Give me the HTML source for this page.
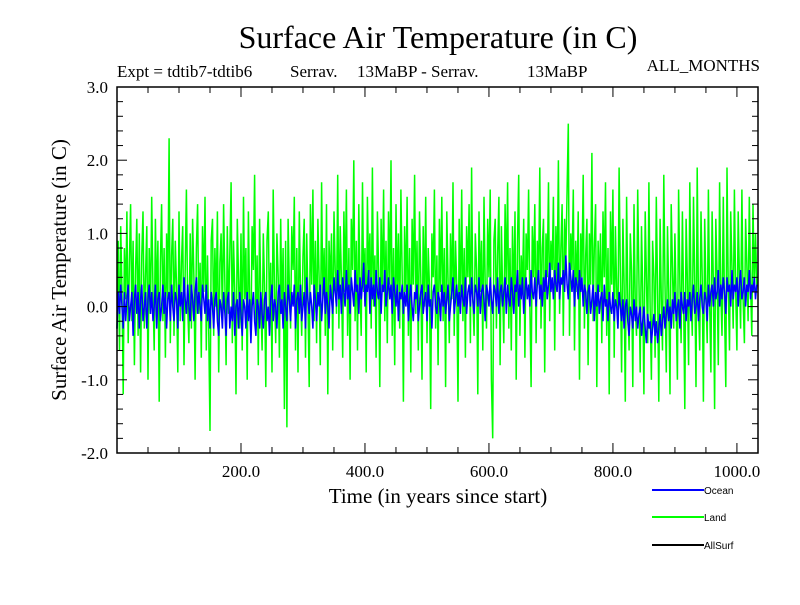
<!DOCTYPE html>
<html><head><meta charset="utf-8"><style>
body{margin:0;background:#fff}
svg text{font-family:"Liberation Serif",serif;fill:#000}
</style></head><body>
<svg width="800" height="600" xmlns="http://www.w3.org/2000/svg">
<text x="438" y="48" font-size="32" text-anchor="middle">Surface Air Temperature (in C)</text>
<text y="77" font-size="17"><tspan x="117">Expt = tdtib7-tdtib6</tspan><tspan x="290">Serrav.</tspan><tspan x="357">13MaBP - Serrav.</tspan><tspan x="527">13MaBP</tspan></text>
<text x="760" y="71" font-size="17" text-anchor="end">ALL_MONTHS</text>
<text transform="translate(66,270) rotate(-90)" font-size="21" text-anchor="middle">Surface Air Temperature (in C)</text>
<text x="438" y="503" font-size="21" text-anchor="middle">Time (in years since start)</text>
<g id="plot"></g>
<g id="axes"></g>
<g>
<line x1="652" y1="490" x2="704" y2="490" stroke="#0000ff" stroke-width="2"/>
<text x="704" y="494" font-size="10" style="font-family:'Liberation Sans',sans-serif">Ocean</text>
<line x1="652" y1="517" x2="704" y2="517" stroke="#00ff00" stroke-width="2"/>
<text x="704" y="521" font-size="10" style="font-family:'Liberation Sans',sans-serif">Land</text>
<line x1="652" y1="545" x2="704" y2="545" stroke="#000" stroke-width="2"/>
<text x="704" y="549" font-size="10" style="font-family:'Liberation Sans',sans-serif">AllSurf</text>
</g>
</svg>
<script>
const yearStep = 2;
const land = [-0.3,0.9,-0.6,1.1,0.2,-1.2,0.8,0.1,1.3,-0.5,0.6,1.4,-0.2,0.9,-0.8,0.5,1.2,-0.4,1.0,-0.9,
0.7,1.3,-0.3,0.4,1.1,-1.0,0.8,-0.1,1.5,0.2,-0.6,1.2,0.0,0.9,-1.3,0.6,1.4,-0.2,0.8,-0.7,
1.0,0.1,2.3,-0.5,0.7,1.2,-0.4,0.9,0.3,-0.9,1.3,-0.2,0.6,1.1,-0.8,0.5,1.6,0.0,-0.5,1.0,
-0.3,1.2,0.4,-1.0,0.8,1.4,-0.1,0.6,-0.7,1.1,0.2,1.5,-0.6,0.7,-0.3,-1.7,0.9,1.2,-0.4,0.8,
0.0,1.3,-0.9,0.6,1.0,-0.2,1.4,0.3,-0.8,1.1,-0.1,0.7,1.7,-0.5,0.9,0.2,-1.2,1.2,0.4,-0.3,
1.0,-0.6,1.5,0.1,0.8,-1.0,1.3,0.0,-0.4,1.1,0.5,1.8,-0.3,0.7,-0.8,1.2,0.1,-0.6,1.0,0.3,
-1.1,0.9,1.3,-0.2,0.6,-0.9,1.6,0.2,-0.5,1.0,0.4,-0.7,1.2,-0.1,0.8,-1.4,0.9,-1.65,1.2,0.3,
-0.3,1.1,0.5,1.5,-0.6,0.8,-0.9,1.3,0.2,-0.4,0.7,1.2,-0.7,1.0,0.1,-1.1,1.4,0.3,1.6,-0.2,
0.9,-0.5,1.2,0.4,-0.8,1.7,0.1,0.8,-0.4,1.4,-1.2,0.9,0.3,1.0,-0.6,1.3,0.5,-0.1,1.8,-0.3,
1.1,0.4,-0.7,1.3,0.2,1.6,-0.4,0.8,-1.0,1.2,0.5,2.0,-0.2,0.9,-0.6,1.4,0.3,-0.4,1.7,0.2,
0.8,-0.9,1.5,0.4,1.0,-0.3,1.9,0.0,0.7,-0.7,1.3,0.5,-1.1,1.2,0.2,1.6,-0.2,0.9,-0.5,1.3,
0.3,2.0,-0.4,0.8,-0.8,1.4,0.1,1.0,-0.3,1.6,0.4,-1.3,1.1,0.2,1.5,-0.4,0.8,-0.9,1.2,0.3,
1.8,-0.1,0.9,-0.6,1.3,0.4,-1.0,1.1,0.0,1.5,-0.5,0.8,0.3,-1.4,1.0,0.4,1.6,-0.3,0.7,-0.8,
1.2,0.2,1.5,-0.2,0.8,-1.1,1.3,0.4,-0.5,1.0,0.1,1.7,-0.4,0.9,0.3,-1.3,1.2,0.0,1.6,-0.2,
0.8,-0.7,1.1,0.4,1.4,-0.5,1.9,0.1,-0.4,1.0,0.5,-1.2,1.3,0.2,0.9,-0.6,1.5,0.3,-0.3,1.2,
0.4,1.6,-1.0,-1.8,0.9,1.2,-0.3,0.7,1.5,-0.8,1.1,0.2,-0.5,1.4,0.3,1.7,-0.3,0.8,-0.6,1.1,
0.0,1.3,-1.0,0.9,1.8,-0.4,0.7,0.2,1.2,-0.7,1.0,0.5,1.6,0.0,-1.1,1.1,0.4,1.4,-0.5,0.9,
0.3,1.9,-0.3,0.8,1.2,-0.9,1.0,0.4,1.7,-0.2,0.9,0.5,1.5,-0.6,1.1,0.3,2.0,-0.1,0.8,1.4,
-0.4,1.2,0.6,1.6,2.5,-0.4,1.0,0.5,1.6,-0.6,0.9,0.2,1.3,-1.0,1.0,0.4,1.8,-0.3,0.7,1.2,
-0.8,1.0,0.3,2.1,-0.2,0.8,1.4,-1.1,0.9,0.2,1.0,-0.5,1.3,0.4,1.7,-0.4,0.8,-1.2,1.3,0.3,
1.6,-0.7,1.1,0.2,-0.3,1.9,0.4,-0.9,1.2,0.3,-1.3,1.5,0.1,-0.6,1.0,0.5,-1.1,1.4,0.0,-0.4,
1.6,0.3,-0.9,1.1,0.2,-1.2,1.3,0.4,-0.5,1.7,0.0,-1.0,0.9,0.4,-0.7,1.5,0.2,-1.3,1.2,0.1,
-0.6,1.8,0.3,-0.9,1.1,0.2,-1.2,1.4,0.5,-0.3,1.0,0.0,-1.0,1.6,0.3,-0.5,1.3,0.1,-1.4,1.2,
0.4,-0.8,1.7,0.2,-0.4,1.5,0.3,-1.1,1.9,0.0,-0.6,1.3,0.4,-1.3,1.2,0.2,-0.5,1.6,0.1,-0.9,
1.3,0.3,-1.4,1.2,0.4,-0.8,1.7,0.2,-0.4,1.5,0.0,-1.1,1.9,0.3,-0.6,1.3,0.5,-0.3,1.6,0.2,
-0.6,1.3,0.4,-0.3,1.6,0.1,-0.5,1.2,0.6,-0.2,1.5,0.3,-0.4,1.4,0.2,1.0,0.3];
const ocean = [-0.3,0.2,-0.1,0.3,0.0,-0.3,0.2,-0.2,0.1,0.3,-0.2,0.0,0.2,-0.4,0.1,0.3,-0.1,0.2,-0.3,0.1,
0.3,-0.2,0.0,0.2,-0.3,0.1,0.3,-0.1,0.2,-0.2,0.0,0.3,-0.3,0.1,0.2,-0.2,0.0,0.3,-0.1,0.2,
-0.3,0.1,0.2,-0.2,0.3,0.0,-0.2,0.2,0.1,-0.3,0.3,0.0,0.2,-0.2,0.4,0.1,-0.1,0.3,0.0,-0.2,
0.3,0.1,-0.2,0.2,0.4,-0.1,0.2,0.0,-0.2,0.3,0.1,-0.1,0.3,-0.2,0.1,-0.3,0.2,0.0,-0.3,0.1,
0.2,-0.2,-0.4,0.1,0.0,-0.3,0.2,-0.1,-0.4,0.1,0.2,-0.3,0.0,-0.2,0.2,-0.4,0.0,0.1,-0.3,0.2,
-0.1,-0.4,0.1,0.0,-0.3,0.2,-0.2,0.1,-0.5,0.0,0.2,-0.2,-0.4,0.1,0.0,-0.3,0.2,-0.1,-0.3,0.1,
0.2,-0.2,0.0,-0.4,0.1,0.3,-0.2,0.1,0.0,-0.3,0.2,0.3,-0.1,0.1,-0.3,0.2,0.0,-0.2,0.3,0.1,
-0.2,0.2,0.0,0.3,-0.3,0.1,0.2,-0.1,0.3,-0.2,0.0,0.2,-0.3,0.4,0.1,-0.1,0.2,0.0,-0.3,0.3,
0.1,-0.2,0.2,0.0,0.3,-0.2,0.1,0.4,-0.1,0.2,0.0,-0.3,0.3,0.1,-0.1,0.4,0.2,0.0,0.5,0.1,
0.3,-0.1,0.4,0.2,0.0,0.5,0.1,0.3,-0.1,0.4,0.2,0.0,0.5,0.2,0.3,-0.1,0.4,0.1,0.3,0.6,
0.0,0.3,0.2,0.5,-0.1,0.4,0.1,0.3,0.0,0.5,0.2,0.1,0.4,-0.1,0.3,0.2,0.5,0.0,0.2,0.4,
0.1,0.3,-0.1,0.4,0.2,0.0,0.3,-0.2,0.2,0.1,0.3,-0.1,0.2,0.0,0.3,-0.2,0.1,0.3,0.0,-0.2,
0.2,0.1,0.3,-0.2,0.0,0.2,0.3,-0.1,0.1,0.2,-0.2,0.3,0.0,0.1,-0.3,0.2,0.3,0.0,-0.1,0.2,
0.1,-0.2,0.3,0.0,0.2,-0.1,0.1,0.3,-0.2,0.0,0.2,0.4,-0.1,0.1,0.3,0.0,0.2,-0.1,0.3,0.1,
0.0,0.4,-0.1,0.2,0.3,0.0,0.4,0.1,-0.1,0.3,0.2,0.0,0.4,-0.1,0.2,0.3,0.1,-0.2,0.3,0.2,
0.0,0.4,0.1,-0.1,0.3,0.2,0.0,0.4,-0.1,0.2,0.3,0.0,0.2,0.4,-0.1,0.3,0.1,0.0,0.4,0.2,
-0.1,0.3,0.2,0.5,0.0,0.3,0.1,0.4,-0.1,0.2,0.4,0.1,0.3,0.0,0.5,0.2,0.1,0.4,0.0,0.3,
0.5,0.1,0.3,0.0,0.4,0.2,0.5,0.1,0.3,0.6,0.2,0.4,0.1,0.5,0.3,0.2,0.6,0.1,0.4,0.3,
0.5,0.2,0.7,0.3,0.1,0.6,0.4,0.2,0.5,0.0,0.4,0.3,0.1,0.5,0.2,0.4,0.0,0.3,0.2,-0.1,
0.2,0.3,-0.1,0.1,0.3,-0.2,0.2,0.0,0.3,-0.1,0.1,0.2,-0.2,0.3,0.0,0.1,-0.2,0.2,0.0,-0.1,
0.2,-0.2,0.1,0.0,-0.3,0.2,0.0,-0.2,0.1,-0.3,0.0,0.1,-0.2,-0.4,0.0,-0.1,-0.3,0.1,-0.2,0.0,
-0.3,-0.1,0.0,-0.4,-0.2,0.0,-0.3,-0.5,-0.1,-0.3,-0.2,-0.5,-0.3,-0.1,-0.4,-0.2,-0.5,-0.3,-0.1,-0.4,
-0.2,0.0,-0.3,-0.1,0.1,-0.2,0.0,-0.3,0.1,-0.1,0.2,-0.2,0.0,0.1,-0.3,0.2,0.0,-0.1,0.2,-0.2,
0.1,0.0,0.2,-0.2,0.1,0.3,-0.1,0.0,0.2,-0.2,0.1,0.3,0.0,-0.1,0.2,0.1,-0.2,0.3,0.0,0.2,
0.3,0.0,0.4,0.1,0.2,0.5,0.0,0.3,0.1,0.4,0.2,-0.1,0.4,0.2,0.3,0.0,0.5,0.1,0.3,0.2,
0.4,0.0,0.3,0.5,0.1,0.2,0.4,0.0,0.3,0.2,0.5,0.1,0.3,0.2,0.4,0.1,0.3];
const xTicks = [200,400,600,800,1000];
const xTickLabels = ["200.0","400.0","600.0","800.0","1000.0"];
const yTicks = [-2,-1,0,1,2,3];
const yTickLabels = ["-2.0","-1.0","0.0","1.0","2.0","3.0"];

const X0=117,X1=758,Y0=453,Y1=87,XMIN=0,XMAX=1034,YMIN=-2,YMAX=3;
const NS="http://www.w3.org/2000/svg";
function xs(v){return X0+(v-XMIN)/(XMAX-XMIN)*(X1-X0);}
function ys(v){return Y0-(v-YMIN)/(YMAX-YMIN)*(Y0-Y1);}
function mk(tag,attrs,parent){const e=document.createElementNS(NS,tag);for(const k in attrs)e.setAttribute(k,attrs[k]);parent.appendChild(e);return e;}
const plot=document.getElementById('plot');
const axes=document.getElementById('axes');
function series(vals,color,name){
  const pts=vals.map((v,i)=>xs(i*yearStep).toFixed(1)+','+ys(v).toFixed(1)).join(' ');
  const p=mk('polyline',{points:pts,fill:'none',stroke:color,'stroke-width':1.5},plot);
  
  
}
series(land,'#00ff00','land-series');
series(ocean,'#0000ff','ocean-series');
const fr=mk('rect',{x:X0,y:Y1,width:X1-X0,height:Y0-Y1,fill:'none',stroke:'#000','stroke-width':1.5},axes);


for(let v=50;v<XMAX;v+=50){
  const x=xs(v),len=(v%200===0)?10:6;
  mk('line',{x1:x,y1:Y0,x2:x,y2:Y0-len,stroke:'#000'},axes);
  mk('line',{x1:x,y1:Y1,x2:x,y2:Y1+len,stroke:'#000'},axes);
}
for(let k=1;k<25;k++){
  const v=YMIN+k*0.2,y=ys(v),len=(k%5===0)?10:6;
  mk('line',{x1:X0,y1:y,x2:X0+len,y2:y,stroke:'#000'},axes);
  mk('line',{x1:X1,y1:y,x2:X1-len,y2:y,stroke:'#000'},axes);
}
xTicks.forEach((v,i)=>{
  const t=mk('text',{x:xs(v),y:Y0+24,'font-size':17,'text-anchor':'middle'},axes);
  t.textContent=xTickLabels[i];
  
  
});
yTicks.forEach((v,i)=>{
  const t=mk('text',{x:X0-9,y:ys(v)+6,'font-size':17,'text-anchor':'end'},axes);
  t.textContent=yTickLabels[i];
  
  
});
</script>
</body></html>
